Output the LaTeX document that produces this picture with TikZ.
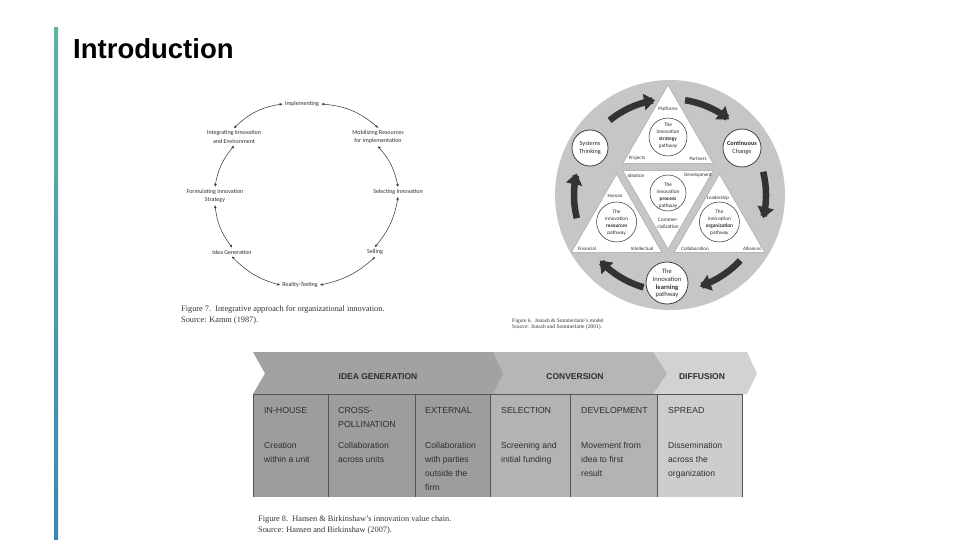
\documentclass[tikz,border=0pt]{standalone}
\usepackage{fontspec}
\setmainfont{Liberation Serif}
\newfontfamily\arialf{Liberation Sans}
\newfontfamily\carl{Carlito}
\usetikzlibrary{arrows.meta,shapes.geometric}
\newcommand\fsz[2]{\fontsize{#1}{#2}\selectfont}
\definecolor{barteal}{HTML}{5DB39F}
\definecolor{barblue}{HTML}{3A86B6}
\definecolor{txt}{HTML}{2E2E2E}
\definecolor{capc}{HTML}{333333}
\definecolor{bigc}{HTML}{C6C6C6}
\definecolor{arrc}{HTML}{333333}
\definecolor{ideac}{HTML}{9D9D9D}
\definecolor{convc}{HTML}{B3B3B3}
\definecolor{diffc}{HTML}{CDCDCD}
\definecolor{ideah}{HTML}{A2A2A2}
\definecolor{convh}{HTML}{B6B6B6}
\definecolor{diffh}{HTML}{D2D2D2}
\definecolor{gridc}{HTML}{555555}
\tikzset{
  lbl/.style={font=\carl\fsz{6}{8.5}, text=txt, align=center, inner sep=1pt, outer sep=1.5pt},
  cyc/.style={{Stealth[length=3pt,width=2.6pt]}-{Stealth[length=3pt,width=2.6pt]}, line width=0.5pt, draw=txt},
  capt/.style={font=\fsz{8.3}{11}, text=capc, anchor=base west, inner sep=0, align=left},
  tri/.style={fill=white, draw=gray!70, line width=0.5pt},
  icirc/.style={fill=white, draw=txt, line width=0.5pt},
  ocirc/.style={fill=white, draw=txt, line width=0.7pt},
  tlab/.style={font=\carl\fsz{5}{6}, text=txt, inner sep=0},
  ctext/.style={font=\carl\fsz{5.3}{7}, text=txt, align=center, inner sep=0},
  bigarrow/.style={draw=arrc, line width=6.5pt, -{Triangle[length=11pt,width=16pt]}},
  vhead/.style={font=\arialf\fsz{8.8}{14}, text=txt, anchor=base west, inner sep=0, align=left},
  vdesc/.style={font=\arialf\fsz{8.6}{14}, text=txt, anchor=base west, inner sep=0, align=left},
  chev/.style={font=\arialf\bfseries\fsz{8.5}{10}, text=txt, inner sep=0},
}
\begin{document}
\begin{tikzpicture}[x=1pt,y=-1pt]
\useasboundingbox[fill=white] (0,0) rectangle (960,540);
% left bar and title
\shade[top color=barteal,bottom color=barblue] (54,28) rectangle (58,540);
\node[anchor=base west, font=\arialf\bfseries\fsz{27.5}{30}, inner sep=0] (title) at (73,59) {Introduction};

% ---------- Figure 7 ----------
\node[lbl] (impl) at (302,104) {Implementing};
\node[lbl] (integ) at (234,137) {Integrating Innovation\\and Environment};
\node[lbl] (mobil) at (378,137) {Mobilizing Resources\\for implementation};
\node[lbl] (formul) at (215,196) {Formulating Innovation\\Strategy};
\node[lbl] (select) at (398,192) {Selecting Innovation};
\node[lbl] (ideag) at (232,252) {Idea Generation};
\node[lbl] (selling) at (375,252) {Selling};
\node[lbl] (reality) at (300,285) {Reality-Testing};
\draw[cyc] (impl.west) to[bend right=18] (integ.north);
\draw[cyc] (integ.south) to[bend right=15] (formul.north);
\draw[cyc] (formul.south) to[bend right=15] (ideag.north);
\draw[cyc] (ideag.south) to[bend right=15] (reality.west);
\draw[cyc] (impl.east) to[bend left=18] (mobil.north);
\draw[cyc] (mobil.south) to[bend left=15] (select.north);
\draw[cyc] (select.south) to[bend left=15] (selling.north);
\draw[cyc] (selling.south) to[bend left=15] (reality.east);
\node[capt] (cap7a) at (181,311.5) {Figure 7.\ \ Integrative approach for organizational innovation.};
\node[capt] (cap7b) at (181,322.5) {Source: Kamm (1987).};

% ---------- Figure 6 ----------
\fill[bigc] (670,195) circle (115);
\filldraw[tri] (668,85) -- (622.8,163.4) -- (713.2,163.4) -- cycle;
\filldraw[tri] (622.8,170.6) -- (713.2,170.6) -- (668,248.9) -- cycle;
\filldraw[tri] (616.6,174.1) -- (571.4,252.4) -- (661.8,252.4) -- cycle;
\filldraw[tri] (719.4,174.1) -- (674.2,252.4) -- (764.6,252.4) -- cycle;
\draw[icirc] (668,137) circle (19);
\draw[icirc] (668,193) circle (18);
\draw[icirc] (616.6,222) circle (20);
\draw[icirc] (719.4,222) circle (20);
\draw[ocirc] (590,148) circle (18);
\draw[ocirc] (742,148) circle (19);
\draw[ocirc] (667,283) circle (21);
% arrows
\foreach \a/\b in {129/99, 81/52, 14/-14, -43/-72, -106/-137, -166/-193}{
  \draw[bigarrow] plot[domain=\a:\b, samples=20, smooth] ({670+96*cos(\x)},{195-96*sin(\x)});
}
% triangle labels
\node[tlab] (platf) at (668,109) {Platforms};
\node[tlab] (proj) at (637,158.5) {Projects};
\node[tlab] (partn) at (698,158.5) {Partners};
\node[ctext] (strat) at (668,136) {The\\innovation\\\textbf{strategy}\\pathway};
\node[tlab] (ideat) at (636,175.5) {Ideation};
\node[tlab] (devel) at (698,175.5) {Development};
\node[ctext] (proc) at (668,196) {The\\innovation\\\textbf{process}\\pathway};
\node[ctext] (comm) at (668,223) {Commer-\\cialization};
\node[tlab] (human) at (615,195.5) {Human};
\node[ctext] (resc) at (616.6,222.5) {The\\innovation\\\textbf{resources}\\pathway};
\node[tlab] (finan) at (587,249) {Financial};
\node[tlab] (intel) at (642,249) {Intellectual};
\node[tlab] (leader) at (718,198) {Leadership};
\node[ctext] (orga) at (719.4,222.5) {The\\innovation\\\textbf{organization}\\pathway};
\node[tlab] (collab) at (695,249) {Collaboration};
\node[tlab] (allian) at (752,249) {Alliances};
\node[ctext, font=\carl\fsz{6.3}{8.5}] (syst) at (590,148) {Systems\\Thinking};
\node[ctext, font=\carl\fsz{6.3}{8.5}] (contc) at (742,148) {\textbf{Continuous}\\Change};
\node[ctext, font=\carl\fsz{6.6}{7.6}] (learn) at (667,283.5) {The\\Innovation\\\textbf{learning}\\pathway};
\node[capt, font=\fsz{5.5}{6}] (cap6a) at (512,322.5) {Figure 6.\ \ Jonash \& Sommerlatte's model};
\node[capt, font=\fsz{5.5}{6}] (cap6b) at (512,328.5) {Source: Jonash and Sommerlatte (2001).};

% ---------- Figure 8 ----------
\fill[diffh] (650,352) -- (747,352) -- (757,373.5) -- (747,394) -- (650,394) -- cycle;
\fill[convh] (490,352) -- (653,352) -- (667,373.5) -- (653,394) -- (490,394) -- cycle;
\fill[ideah] (253,352) -- (493,352) -- (503,373.5) -- (493,394) -- (253,394) -- (265,373.5) -- cycle;
\fill[ideac] (253,394) rectangle (490,497);
\fill[convc] (490,394) rectangle (657,497);
\fill[diffc] (657,394) rectangle (742,497);
\draw[gridc, line width=0.8pt] (253,394) -- (742,394);
\foreach \xx in {253,328,415,490,570,657,742}{
  \draw[gridc, line width=0.8pt] (\xx,394) -- (\xx,497);
}
\node[chev] (ch1) at (378,377) {IDEA GENERATION};
\node[chev] (ch2) at (575,377) {CONVERSION};
\node[chev] (ch3) at (702,377) {DIFFUSION};
% multi-line nodes: base anchor = baseline of last line
\node[vhead] (h1) at (264,413.5) {IN-HOUSE};
\node[vhead] (h2) at (338,427.5) {CROSS-\\POLLINATION};
\node[vhead] (h3) at (425,413.5) {EXTERNAL};
\node[vhead] (h4) at (501,413.5) {SELECTION};
\node[vhead] (h5) at (581,413.5) {DEVELOPMENT};
\node[vhead] (h6) at (668,413.5) {SPREAD};
\node[vdesc] (d1) at (264,462.5) {Creation\\within a unit};
\node[vdesc] (d2) at (338,462.5) {Collaboration\\across units};
\node[vdesc] (d3) at (425,490.5) {Collaboration\\with parties\\outside the\\firm};
\node[vdesc] (d4) at (501,462.5) {Screening and\\initial funding};
\node[vdesc] (d5) at (581,476.5) {Movement from\\idea to first\\result};
\node[vdesc] (d6) at (668,476.5) {Dissemination\\across the\\organization};
\node[capt] (cap8a) at (258,521.5) {Figure 8.\ \ Hansen \& Birkinshaw's innovation value chain.};
\node[capt] (cap8b) at (258,532.5) {Source: Hansen and Birkinshaw (2007).};
\end{tikzpicture}
\end{document}
